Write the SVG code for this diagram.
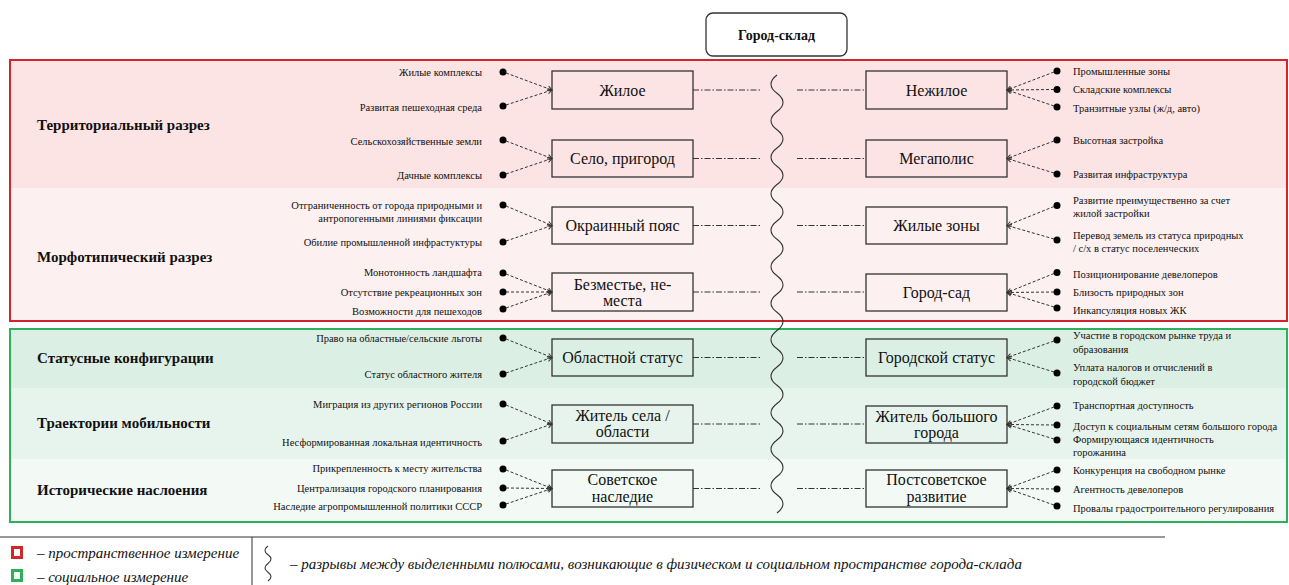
<svg xmlns="http://www.w3.org/2000/svg" width="1289" height="585" viewBox="0 0 1289 585" font-family="'Liberation Serif', 'DejaVu Serif', serif">
<style>
.t,.s,.b,.h,.lg{font-family:'Liberation Serif','DejaVu Serif',serif;fill:#111}
.s{font-size:10.5px}
.e{text-anchor:end}
.b{font-size:16px;text-anchor:middle}
.h{font-size:15px;font-weight:bold}
.lg{font-size:15px;font-style:italic}
.box{fill:none;stroke:#333;stroke-width:1.3}
.dot{fill:#000}
.dc{fill:none;stroke:#333;stroke-width:1;stroke-dasharray:3,2;marker-end:url(#ar)}
.dd{fill:none;stroke:#333;stroke-width:1;stroke-dasharray:6,2,1.5,2}
.wave{fill:none;stroke:#333;stroke-width:1.1}
</style>
<defs>
<marker id="ar" markerUnits="userSpaceOnUse" markerWidth="7" markerHeight="7" refX="5" refY="3" orient="auto">
<path d="M0.5,0.5 L5,3 L0.5,5.5" fill="none" stroke="#333" stroke-width="1"/>
</marker>
</defs>
<rect width="1289" height="585" fill="#fff"/>
<g id="bands">
<rect x="10" y="60" width="1277" height="128" fill="#fce4e4"/>
<rect x="10" y="188" width="1277" height="133" fill="#fdf0f0"/>
<rect x="10" y="329" width="1277" height="59" fill="#dcefe5"/>
<rect x="10" y="388" width="1277" height="71" fill="#e7f4ed"/>
<rect x="10" y="459" width="1277" height="63" fill="#f3f9f5"/>
<rect x="10" y="60" width="1277" height="261" fill="none" stroke="#d1262c" stroke-width="2"/>
<rect x="10" y="329" width="1277" height="193" fill="none" stroke="#2eaf5a" stroke-width="2"/>
</g>
<g id="title">
<rect x="706" y="13" width="141" height="43" rx="7" fill="#fff" stroke="#333" stroke-width="1.3"/>
<text class="t" x="776.5" y="40" font-size="14" font-weight="bold" text-anchor="middle">Город-склад</text>
</g>
<g id="sections">
<text class="h" x="37" y="130">Территориальный разрез</text>
<text class="h" x="37" y="262">Морфотипический разрез</text>
<text class="h" x="37" y="363">Статусные конфигурации</text>
<text class="h" x="37" y="428">Траектории мобильности</text>
<text class="h" x="37" y="495">Исторические наслоения</text>
</g>
<g id="left-nodes">
<g id="n-zhiloe"><rect class="box" x="552" y="71" width="141" height="38"/><text class="b" x="622.5" y="96">Жилое</text></g>
<g id="n-selo"><rect class="box" x="552" y="140" width="141" height="37"/><text class="b" x="622.5" y="164">Село, пригород</text></g>
<g id="n-okrain"><rect class="box" x="552" y="207" width="141" height="37"/><text class="b" x="622.5" y="231">Окраинный пояс</text></g>
<g id="n-bezm"><rect class="box" x="552" y="273" width="141" height="38"/><text class="b" x="622.5" y="290">Безместье, не-</text><text class="b" x="622.5" y="306">места</text></g>
<g id="n-obl"><rect class="box" x="552" y="339" width="141" height="37"/><text class="b" x="622.5" y="363">Областной статус</text></g>
<g id="n-zhsela"><rect class="box" x="552" y="405" width="141" height="38"/><text class="b" x="622.5" y="421">Житель села /</text><text class="b" x="622.5" y="437">области</text></g>
<g id="n-sov"><rect class="box" x="552" y="470" width="141" height="37"/><text class="b" x="622.5" y="485">Советское</text><text class="b" x="622.5" y="502">наследие</text></g>
</g>
<g id="right-nodes">
<g id="n-nezh"><rect class="box" x="866" y="71" width="141" height="38"/><text class="b" x="936.5" y="96">Нежилое</text></g>
<g id="n-mega"><rect class="box" x="866" y="140" width="141" height="37"/><text class="b" x="936.5" y="164">Мегаполис</text></g>
<g id="n-zhzony"><rect class="box" x="866" y="207" width="141" height="37"/><text class="b" x="936.5" y="231">Жилые зоны</text></g>
<g id="n-gorsad"><rect class="box" x="866" y="274" width="141" height="37"/><text class="b" x="936.5" y="298">Город-сад</text></g>
<g id="n-gorstat"><rect class="box" x="866" y="339" width="141" height="37"/><text class="b" x="936.5" y="363">Городской статус</text></g>
<g id="n-zhbig"><rect class="box" x="866" y="406" width="141" height="37"/><text class="b" x="936.5" y="422">Житель большого</text><text class="b" x="936.5" y="438">города</text></g>
<g id="n-postsov"><rect class="box" x="866" y="470" width="141" height="37"/><text class="b" x="936.5" y="485">Постсоветское</text><text class="b" x="936.5" y="502">развитие</text></g>
</g>
<g id="left-items">
<text class="s e" x="482" y="75.5">Жилые комплексы</text><circle class="dot" cx="503" cy="72" r="3.5"/>
<text class="s e" x="482" y="110.5">Развитая пешеходная среда</text><circle class="dot" cx="503" cy="106" r="3.5"/>
<text class="s e" x="482" y="144.5">Сельскохозяйственные земли</text><circle class="dot" cx="503" cy="140" r="3.5"/>
<text class="s e" x="482" y="178.5">Дачные комплексы</text><circle class="dot" cx="503" cy="175" r="3.5"/>
<text class="s e" x="482" y="208.5">Отграниченность  от города природными и</text>
<text class="s e" x="482" y="221.5">антропогенными  линиями фиксации</text><circle class="dot" cx="503" cy="205" r="3.5"/>
<text class="s e" x="482" y="245.5">Обилие промышленной инфрастуктуры</text><circle class="dot" cx="503" cy="242" r="3.5"/>
<text class="s e" x="482" y="275.5">Монотонность ландшафта</text><circle class="dot" cx="503" cy="273" r="3.5"/>
<text class="s e" x="482" y="295.5">Отсутствие  рекреационных  зон</text><circle class="dot" cx="503" cy="292" r="3.5"/>
<text class="s e" x="482" y="314.5">Возможности для пешеходов</text><circle class="dot" cx="503" cy="309" r="3.5"/>
<text class="s e" x="482" y="342">Право на областные/сельские  льготы</text><circle class="dot" cx="503" cy="338" r="3.5"/>
<text class="s e" x="482" y="378">Статус  областного  жителя</text><circle class="dot" cx="503" cy="374" r="3.5"/>
<text class="s e" x="482" y="408">Миграция  из других  регионов России</text><circle class="dot" cx="503" cy="404" r="3.5"/>
<text class="s e" x="482" y="446">Несформированная  локальная идентичность</text><circle class="dot" cx="503" cy="441" r="3.5"/>
<text class="s e" x="482" y="472">Прикрепленность  к месту  жительства</text><circle class="dot" cx="503" cy="469" r="3.5"/>
<text class="s e" x="482" y="491.5">Централизация  городского  планирования</text><circle class="dot" cx="503" cy="488" r="3.5"/>
<text class="s e" x="482" y="509.5">Наследие  агропромышленной  политики  СССР</text><circle class="dot" cx="503" cy="505" r="3.5"/>
</g>
<g id="right-items">
<circle class="dot" cx="1057" cy="71" r="3.5"/><text class="s" x="1073" y="74.5">Промышленные  зоны</text>
<circle class="dot" cx="1057" cy="89.5" r="3.5"/><text class="s" x="1073" y="93">Складские  комплексы</text>
<circle class="dot" cx="1057" cy="107" r="3.5"/><text class="s" x="1073" y="111.5">Транзитные узлы (ж/д, авто)</text>
<circle class="dot" cx="1057" cy="140" r="3.5"/><text class="s" x="1073" y="143.5">Высотная застройка</text>
<circle class="dot" cx="1057" cy="174" r="3.5"/><text class="s" x="1073" y="177.5">Развитая инфраструктура</text>
<circle class="dot" cx="1057" cy="205.5" r="3.5"/><text class="s" x="1073" y="203.5">Развитие преимущественно  за счет</text><text class="s" x="1073" y="216.5">жилой застройки</text>
<circle class="dot" cx="1057" cy="240" r="3.5"/><text class="s" x="1073" y="238.5">Перевод земель  из статуса  природных</text><text class="s" x="1073" y="251.5">/ с/х  в статус  поселенческих</text>
<circle class="dot" cx="1057" cy="272.5" r="3.5"/><text class="s" x="1073" y="277.5">Позиционирование  девелоперов</text>
<circle class="dot" cx="1057" cy="292" r="3.5"/><text class="s" x="1073" y="295.5">Близость природных зон</text>
<circle class="dot" cx="1057" cy="308" r="3.5"/><text class="s" x="1073" y="313.5">Инкапсуляция  новых ЖК</text>
<circle class="dot" cx="1057" cy="340" r="3.5"/><text class="s" x="1073" y="338.5">Участие  в городском рынке труда  и</text><text class="s" x="1073" y="352.5">образования</text>
<circle class="dot" cx="1057" cy="373" r="3.5"/><text class="s" x="1073" y="370.5">Уплата  налогов и отчислений  в</text><text class="s" x="1073" y="384.5">городской бюджет</text>
<circle class="dot" cx="1057" cy="406" r="3.5"/><text class="s" x="1073" y="408.5">Транспортная  доступность</text>
<circle class="dot" cx="1057" cy="425" r="3.5"/><text class="s" x="1073" y="429.5">Доступ к социальным  сетям  большого города</text>
<circle class="dot" cx="1057" cy="440" r="3.5"/><text class="s" x="1073" y="442.5">Формирующаяся идентичность</text><text class="s" x="1073" y="456">горожанина</text>
<circle class="dot" cx="1057" cy="470" r="3.5"/><text class="s" x="1073" y="474">Конкуренция  на  свободном  рынке</text>
<circle class="dot" cx="1057" cy="489" r="3.5"/><text class="s" x="1073" y="492.5">Агентность  девелоперов</text>
<circle class="dot" cx="1057" cy="506" r="3.5"/><text class="s" x="1073" y="511.5">Провалы градостроительного   регулирования</text>
</g>
<g id="connectors">
<path class="dc" d="M506,73 L552,90"/><path class="dc" d="M506,105 L552,90"/>
<path class="dc" d="M506,141 L552,158.5"/><path class="dc" d="M506,174 L552,158.5"/>
<path class="dc" d="M506,206 L552,225.5"/><path class="dc" d="M506,241 L552,225.5"/>
<path class="dc" d="M506,274 L552,292"/><path class="dc" d="M506,292 L552,292"/><path class="dc" d="M506,308 L552,292"/>
<path class="dc" d="M506,339 L552,357.5"/><path class="dc" d="M506,373 L552,357.5"/>
<path class="dc" d="M506,405 L552,424"/><path class="dc" d="M506,440 L552,424"/>
<path class="dc" d="M506,470 L552,488.5"/><path class="dc" d="M506,488 L552,488.5"/><path class="dc" d="M506,504 L552,488.5"/>
<path class="dc" d="M1054,72 L1007,90"/><path class="dc" d="M1054,89.5 L1007,90"/><path class="dc" d="M1054,106 L1007,90"/>
<path class="dc" d="M1054,141 L1007,158.5"/><path class="dc" d="M1054,173 L1007,158.5"/>
<path class="dc" d="M1054,206.5 L1007,225.5"/><path class="dc" d="M1054,239 L1007,225.5"/>
<path class="dc" d="M1054,273.5 L1007,292.5"/><path class="dc" d="M1054,292 L1007,292.5"/><path class="dc" d="M1054,307 L1007,292.5"/>
<path class="dc" d="M1054,341 L1007,357.5"/><path class="dc" d="M1054,372 L1007,357.5"/>
<path class="dc" d="M1054,407 L1007,424.5"/><path class="dc" d="M1054,425 L1007,424.5"/><path class="dc" d="M1054,439 L1007,424.5"/>
<path class="dc" d="M1054,471 L1007,488.5"/><path class="dc" d="M1054,489 L1007,488.5"/><path class="dc" d="M1054,505 L1007,488.5"/>
<path class="dd" d="M693,90 H762 M797,90 H866"/>
<path class="dd" d="M693,158.5 H762 M797,158.5 H866"/>
<path class="dd" d="M693,225.5 H762 M797,225.5 H866"/>
<path class="dd" d="M693,292 H762 M797,292 H866"/>
<path class="dd" d="M693,357.5 H762 M797,357.5 H866"/>
<path class="dd" d="M693,424 H762 M797,424 H866"/>
<path class="dd" d="M693,488.5 H762 M797,488.5 H866"/>
<path class="wave" d="M777,75 q-12,9.125 0,18.25 t0,18.25 t0,18.25 t0,18.25 t0,18.25 t0,18.25 t0,18.25 t0,18.25 t0,18.25 t0,18.25 t0,18.25 t0,18.25 t0,18.25 t0,18.25 t0,18.25 t0,18.25 t0,18.25 t0,18.25 t0,18.25 t0,18.25 t0,18.25 t0,18.25 t0,18.25 t0,18.25"/>
</g>
<g id="legend">
<path d="M0,537 H1165 M252,537 V585" stroke="#333" stroke-width="1" fill="none"/>
<rect x="12.5" y="547.5" width="9" height="10" fill="#fff" stroke="#d1262c" stroke-width="3"/>
<rect x="12.5" y="570.5" width="9" height="10" fill="#fff" stroke="#2eaf5a" stroke-width="3"/>
<text class="lg" x="37" y="558">– пространственное измерение</text>
<text class="lg" x="37" y="582">– социальное измерение</text>
<path class="wave" d="M268,546 q-6,4.4 0,8.75 t0,8.75 t0,8.75 t0,8.75"/>
<text class="lg" x="290" y="569">– разрывы  между выделенными полюсами, возникающие в физическом и социальном пространстве города-склада</text>
</g>
</svg>
